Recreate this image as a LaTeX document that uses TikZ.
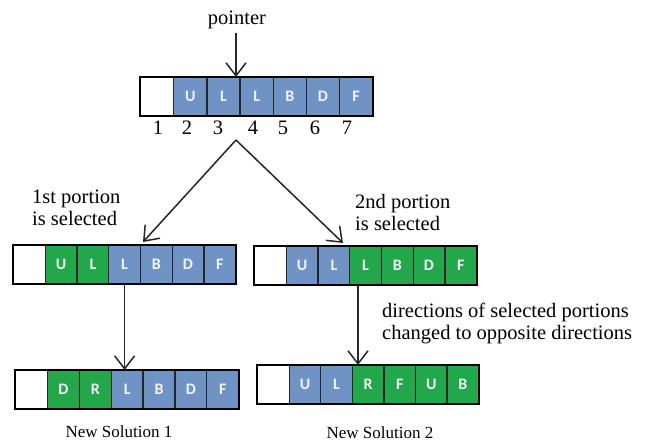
\documentclass[tikz,border=0pt]{standalone}
\usepackage{fontspec}
\setmainfont{Liberation Serif}
\newfontfamily\tnr{Liberation Serif}
\newfontfamily\cellfont{Carlito}
\usetikzlibrary{arrows.meta}
\definecolor{cblue}{RGB}{111,147,197}
\definecolor{cgreen}{RGB}{34,168,74}
\tikzset{
  cellbox/.style={draw=black!85, line width=1.3pt, minimum height=38pt, inner sep=0pt, anchor=north west,
    text=white!90!cblue, font=\cellfont\bfseries\fontsize{16}{16}\selectfont},
  frame/.style={draw=black, line width=2pt},
  lbl/.style={font=\tnr\fontsize{20.5}{22}\selectfont, inner sep=0pt, align=left},
  num/.style={font=\tnr\fontsize{20.5}{22}\selectfont, inner sep=0pt},
  captxt/.style={font=\tnr\fontsize{17}{19}\selectfont, inner sep=0pt},
  arr/.style={draw=black!85, line width=1.5pt, -{Straight Barb[length=13pt,width=20pt,line width=1.5pt]}}
}
\newcommand{\cellrow}[5]{%
  \foreach [count=\i] \f/\t in {#5} {
    \node[cellbox, fill=\f, minimum width=#4pt] (#1c\i) at ({#2+(\i-1)*#4}, #3) {\t};
  }
  \draw[frame] (#1c1.north west) rectangle (#1c7.south east);
}
\begin{document}
\begin{tikzpicture}[x=1pt,y=-1pt]
\useasboundingbox (0,0) rectangle (646,441);
% top row
\cellrow{a}{140}{77}{33.14}{white/,cblue/U,cblue/L,cblue/L,cblue/B,cblue/D,cblue/F}
\node[lbl] (ptr) at (237,20) {pointer};
\coordinate (ptrtip) at (236,77);
\coordinate (ptrstart) at (236,33);
\draw[arr] (ptrstart) -- (ptrtip);
\foreach \n/\x in {1/158,2/187,3/218,4/253,5/283,6/315,7/347} {
  \node[num] (n\n) at (\x,128) {\n};
}
% second rows
\cellrow{b}{13}{245}{31.7}{white/,cgreen/U,cgreen/L,cblue/L,cblue/B,cblue/D,cblue/F}
\cellrow{c}{254}{246}{31.7}{white/,cblue/U,cblue/L,cgreen/L,cgreen/B,cgreen/D,cgreen/F}
\coordinate (split) at (236,140);
\coordinate (ltip) at (143,242);
\coordinate (rtip) at (343,243);
\draw[arr] (split) -- (ltip);
\draw[arr] (split) -- (rtip);
\node[lbl, anchor=north west] (sel1) at (32,190) {1st portion\\is selected};
\node[lbl, anchor=north west] (sel2) at (355,194) {2nd portion\\is selected};
% third rows
\cellrow{d}{15}{370}{31.86}{white/,cgreen/D,cgreen/R,cblue/L,cblue/B,cblue/D,cblue/F}
\cellrow{e}{257}{365}{31.57}{white/,cblue/U,cblue/L,cgreen/R,cgreen/F,cgreen/U,cgreen/B}
\draw[arr] (bc4.south) -- (bc4.south |- dc4.north);
\coordinate (vs) at (358,285);
\coordinate (ve) at (358,365);
\draw[arr] (vs) -- (ve);
\node[lbl, anchor=north west] (dir) at (382,303) {directions of selected portions\\changed to opposite directions};
\node[captxt] (ns1) at (119,432) {New Solution 1};
\node[captxt] (ns2) at (380,433) {New Solution 2};
\end{tikzpicture}
\end{document}
